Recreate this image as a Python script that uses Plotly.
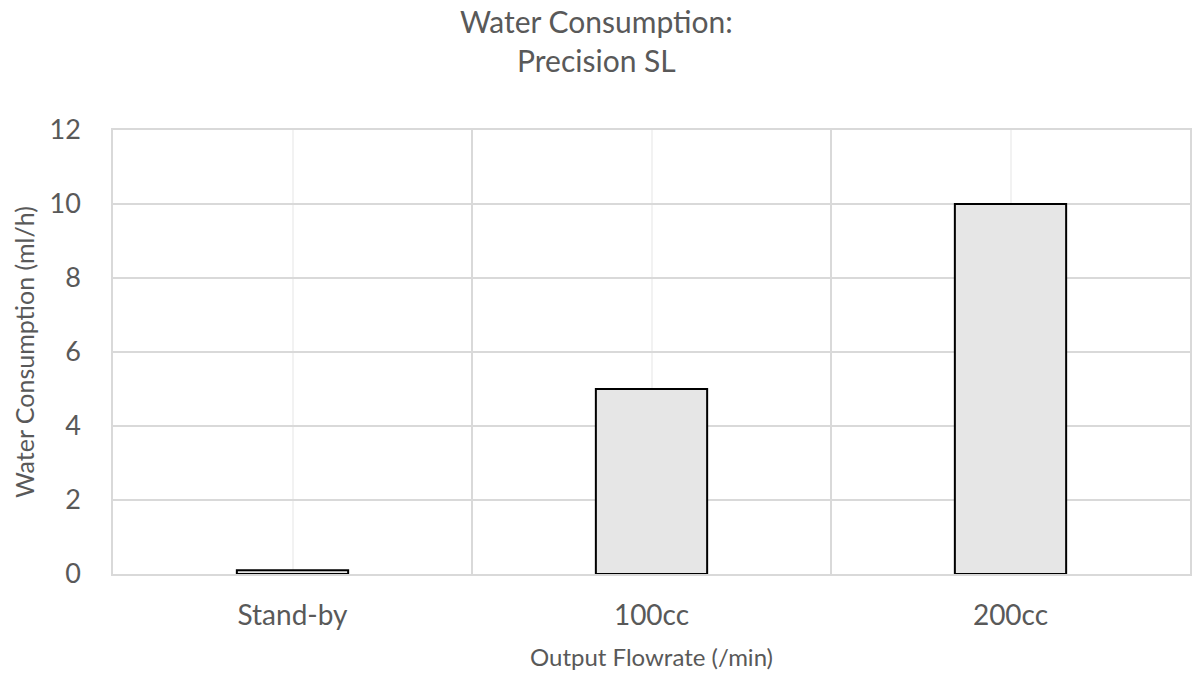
import plotly.graph_objects as go

categories = ["Stand-by", "100cc", "200cc"]
values = [0.1, 5, 10]
y_ticks = [0, 2, 4, 6, 8, 10, 12]
title_text = "Water Consumption:<br>Precision SL"
x_title = "Output Flowrate (/min)"
y_title = "Water Consumption (ml/h)"

x_pos = list(range(len(categories)))

W, H = 1192, 682
M_L, M_R, M_T, M_B = 113, 2, 130, 108
plot_h = H - M_T - M_B
plot_w = W - M_L - M_R

fig = go.Figure()
fig.add_trace(go.Bar(
    x=x_pos, y=values, width=0.31,
    marker=dict(color="#e6e6e6", line=dict(color="#000000", width=2)),
    hoverinfo="skip",
))

font_family = "Lato, 'Open Sans', sans-serif"
grey = "#595959"

fig.update_layout(
    width=W, height=H,
    margin=dict(l=M_L, r=M_R, t=M_T, b=M_B, autoexpand=False),
    paper_bgcolor="white", plot_bgcolor="white",
    showlegend=False,
    font=dict(family=font_family, color=grey),
    annotations=[dict(
        text=title_text, xref="paper", yref="paper",
        x=(W / 2 - M_L) / plot_w, xanchor="center",
        y=1 + (M_T - 41) / plot_h, yanchor="middle", showarrow=False,
        font=dict(size=30, color=grey, family=font_family),
    )],
)
fig.update_xaxes(
    range=[-0.5, len(categories) - 0.5],
    tickmode="array", tickvals=x_pos, ticktext=categories,
    tickfont=dict(size=28, color=grey),
    ticks="", ticklabelstandoff=16,
    showgrid=True, gridcolor="#f2f2f2", gridwidth=1.5,
    minor=dict(tickmode="linear", tick0=-0.5, dtick=1, showgrid=True,
               gridcolor="#d9d9d9", gridwidth=1.5, ticks=""),
    showline=True, mirror=True, linecolor="#d9d9d9", linewidth=1.5,
    zeroline=False,
    title=dict(text=x_title, font=dict(size=24, color=grey), standoff=19),
)
fig.update_yaxes(
    range=[0, 12], tickmode="array", tickvals=y_ticks,
    tickfont=dict(size=27, color=grey),
    ticks="", ticklabelstandoff=25,
    showgrid=True, gridcolor="#d9d9d9", gridwidth=1.5,
    showline=True, mirror=True, linecolor="#d9d9d9", linewidth=1.5,
    zeroline=False,
    title=dict(text=y_title, font=dict(size=25, color=grey), standoff=8),
)

fig.write_html("out.html", config={"displayModeBar": False},
               post_script="document.body.style.margin='0';")
